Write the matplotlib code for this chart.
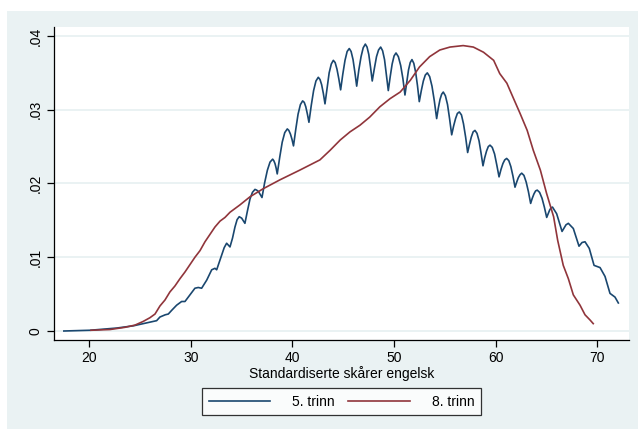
#!/usr/bin/env python3
"""
Tetthet av standardiserte skårer i engelsk, 5. og 8. trinn (Stata-stil)
"""

import matplotlib.pyplot as plt
from matplotlib.patches import Rectangle

# --- Data (lest av figuren) ---
# 5. trinn: bølgete kurve, ett punkt per knekk/skulder
x_5 = [17.5, 20.07, 22.70, 24.33, 24.99, 25.97, 26.63, 26.96, 27.48, 27.78,
       28.11, 28.60, 29.09, 29.42, 29.91, 30.40, 30.73, 31.06, 31.56, 32.05,
       32.37, 32.54, 33.03, 33.28, 33.52, 33.85, 34.10, 34.34, 34.55, 34.76,
       35.00, 35.32,
       35.57, 35.82, 36.06, 36.31, 36.48, 36.66, 36.83, 37.00,
       37.26, 37.53, 37.79, 38.05, 38.16, 38.28, 38.39, 38.50,
       38.75, 38.99, 39.24, 39.49, 39.64, 39.80, 39.95, 40.10,
       40.33, 40.55, 40.78, 41.00, 41.16, 41.31, 41.47, 41.62,
       41.85, 42.08, 42.31, 42.54, 42.71, 42.87, 43.04, 43.20,
       43.41, 43.61, 43.82, 44.02, 44.20, 44.38, 44.56, 44.74,
       44.95, 45.17, 45.38, 45.59, 45.77, 45.96, 46.14, 46.32,
       46.53, 46.75, 46.96, 47.17, 47.34, 47.51, 47.68, 47.85,
       48.06, 48.27, 48.47, 48.68, 48.87, 49.06, 49.24, 49.43,
       49.62, 49.81, 50.00, 50.19, 50.42, 50.65, 50.87, 51.07,
       51.25, 51.42, 51.59, 51.76, 51.94, 52.12, 52.30, 52.48,
       52.68, 52.88, 53.07, 53.27, 53.50, 53.73, 53.96, 54.19,
       54.35, 54.52, 54.68, 54.84, 55.05, 55.26, 55.46, 55.67,
       55.86, 56.05, 56.23, 56.42, 56.63, 56.83, 57.04, 57.24,
       57.42, 57.60, 57.78, 57.96, 58.16, 58.36, 58.55, 58.75,
       58.92, 59.10, 59.27, 59.44, 59.66, 59.89, 60.11, 60.33,
       60.52, 60.71, 60.89, 61.08, 61.29, 61.49, 61.70, 61.90,
       62.07, 62.23, 62.40, 62.56, 62.78, 63.00, 63.22, 63.44,
       63.60, 63.77, 63.93, 64.09, 64.32, 64.56, 64.79, 65.02,
       65.16, 65.31, 65.45, 65.59, 66.00, 66.53,
       66.92, 67.15, 67.64, 68.20, 68.50, 68.79, 69.21, 69.68, 70.27, 70.76,
       71.25, 71.74, 72.07]
y_5 = [0.0000, 0.0001, 0.0004, 0.0007, 0.0009, 0.0012, 0.0014, 0.0019, 0.0022, 0.0023,
       0.0028, 0.0035, 0.0040, 0.0040, 0.0049, 0.0058, 0.0059, 0.0058, 0.0069, 0.0083,
       0.0085, 0.0083, 0.0103, 0.0113, 0.0119, 0.0114, 0.0126, 0.0141, 0.0151, 0.0155,
       0.0153, 0.0146,
       0.0163, 0.0179, 0.0188, 0.0192, 0.0191, 0.0189, 0.0185, 0.0181,
       0.0201, 0.0218, 0.0229, 0.0233, 0.0231, 0.0227, 0.0221, 0.0213,
       0.0236, 0.0256, 0.0269, 0.0274, 0.0272, 0.0267, 0.0260, 0.0251,
       0.0274, 0.0294, 0.0307, 0.0312, 0.0310, 0.0304, 0.0294, 0.0283,
       0.0306, 0.0326, 0.0339, 0.0344, 0.0341, 0.0334, 0.0322, 0.0308,
       0.0330, 0.0350, 0.0362, 0.0367, 0.0364, 0.0355, 0.0342, 0.0327,
       0.0348, 0.0367, 0.0379, 0.0383, 0.0379, 0.0368, 0.0351, 0.0332,
       0.0354, 0.0372, 0.0384, 0.0389, 0.0385, 0.0375, 0.0358, 0.0339,
       0.0356, 0.0372, 0.0381, 0.0385, 0.0380, 0.0368, 0.0348, 0.0326,
       0.0345, 0.0362, 0.0373, 0.0377, 0.0372, 0.0360, 0.0342, 0.0320,
       0.0338, 0.0354, 0.0364, 0.0368, 0.0363, 0.0351, 0.0333, 0.0311,
       0.0326, 0.0339, 0.0347, 0.0350, 0.0345, 0.0332, 0.0312, 0.0288,
       0.0302, 0.0314, 0.0321, 0.0324, 0.0319, 0.0307, 0.0288, 0.0266,
       0.0278, 0.0288, 0.0295, 0.0297, 0.0293, 0.0281, 0.0263, 0.0242,
       0.0253, 0.0263, 0.0270, 0.0272, 0.0268, 0.0258, 0.0242, 0.0224,
       0.0235, 0.0244, 0.0250, 0.0252, 0.0249, 0.0240, 0.0225, 0.0209,
       0.0219, 0.0227, 0.0232, 0.0234, 0.0231, 0.0223, 0.0210, 0.0195,
       0.0202, 0.0208, 0.0212, 0.0214, 0.0211, 0.0202, 0.0189, 0.0173,
       0.0180, 0.0186, 0.0190, 0.0191, 0.0188, 0.0180, 0.0168, 0.0154,
       0.0159, 0.0164, 0.0167, 0.0168, 0.0159, 0.0135,
       0.0144, 0.0146, 0.0139, 0.0115, 0.0120, 0.0121, 0.0112, 0.0089, 0.0086, 0.0074,
       0.0051, 0.0046, 0.0038]

# 8. trinn: jevnere kurve
x_8 = [20.17, 22.04, 23.51, 24.50, 25.31, 25.97, 26.47, 26.96, 27.45, 27.94,
       28.43, 28.93, 29.42, 29.91, 30.40, 30.90, 31.39, 31.88, 32.37, 32.87,
       33.36, 33.85, 34.83, 35.82, 37.13, 38.77, 40.70, 41.70, 42.70, 43.70,
       44.70, 45.66, 46.64, 47.60, 48.60, 49.60, 50.60, 51.60, 52.50, 53.50,
       54.50, 55.50, 56.80, 57.80, 58.80, 59.80, 60.40, 61.10, 61.70, 62.40,
       63.10, 63.70, 64.40, 65.00, 65.70, 66.10, 66.65, 67.15, 67.64, 68.30,
       68.79, 69.28, 69.60]
y_8 = [0.0001, 0.0002, 0.0005, 0.0008, 0.0013, 0.0018, 0.0023, 0.0034, 0.0042, 0.0053,
       0.0061, 0.0071, 0.0080, 0.0090, 0.0100, 0.0109, 0.0121, 0.0131, 0.0141, 0.0149,
       0.0154, 0.0161, 0.0171, 0.0182, 0.0193, 0.0205, 0.0218, 0.0225, 0.0232, 0.0245,
       0.0259, 0.0270, 0.0279, 0.0290, 0.0304, 0.0315, 0.0324, 0.0340, 0.0358, 0.0372,
       0.0381, 0.0385, 0.0387, 0.0385, 0.0378, 0.0367, 0.0349, 0.0336, 0.0317, 0.0295,
       0.0272, 0.0245, 0.0218, 0.0187, 0.0155, 0.0123, 0.0089, 0.0071, 0.0049, 0.0035,
       0.0022, 0.0015, 0.0010]

x_ticks = [20, 30, 40, 50, 60, 70]
y_ticks = [0, 0.01, 0.02, 0.03, 0.04]
y_ticklabels = ["0", ".01", ".02", ".03", ".04"]

# --- Style ---
plt.rcParams["font.family"] = ["Liberation Sans", "DejaVu Sans"]
BG = "#EAF2F3"
NAVY = "#1A476F"
MAROON = "#90353B"

W, H = 638, 429
fig = plt.figure(figsize=(W / 100, H / 100), dpi=100)
fig.patch.set_facecolor("white")
# Stata graph region
fig.patches.append(Rectangle((7 / W, 0), 1 - 7 / W, 1 - 11 / H,
                             transform=fig.transFigure, facecolor=BG,
                             edgecolor="none", zorder=-10))

ax = fig.add_axes([54 / W, (H - 340) / H, 575 / W, 313 / H])
ax.set_facecolor("white")

for yt in y_ticks:
    ax.axhline(yt, color=BG, linewidth=1.4, zorder=1)

ax.plot(x_5, y_5, color=NAVY, linewidth=1.2, label="5. trinn", zorder=3)
ax.plot(x_8, y_8, color=MAROON, linewidth=1.2, label="8. trinn", zorder=3)

ax.set_xlim(16.53, 73.12)
ax.set_ylim(-0.00122, 0.04122)
ax.set_xticks(x_ticks)
ax.set_yticks(y_ticks)
ax.set_yticklabels(y_ticklabels, rotation=90, va="center")
ax.tick_params(axis="both", direction="out", length=5, width=0.9,
               labelsize=10, colors="black", pad=3)

for side in ["top", "right"]:
    ax.spines[side].set_visible(False)
for side in ["left", "bottom"]:
    ax.spines[side].set_linewidth(0.9)

ax.set_xlabel("Standardiserte skårer engelsk", fontsize=10, labelpad=1)

# Legend
leg = fig.legend(loc="center", bbox_to_anchor=(341.5 / W, 1 - 401.5 / H),
                 ncol=2, fontsize=10, frameon=True, fancybox=False,
                 handlelength=4.4, columnspacing=1.0, handletextpad=1.6,
                 borderpad=0.45)
leg.get_frame().set_edgecolor("black")
leg.get_frame().set_linewidth(0.9)

fig.savefig("out.png", dpi=100, facecolor=fig.get_facecolor())
plt.close()
